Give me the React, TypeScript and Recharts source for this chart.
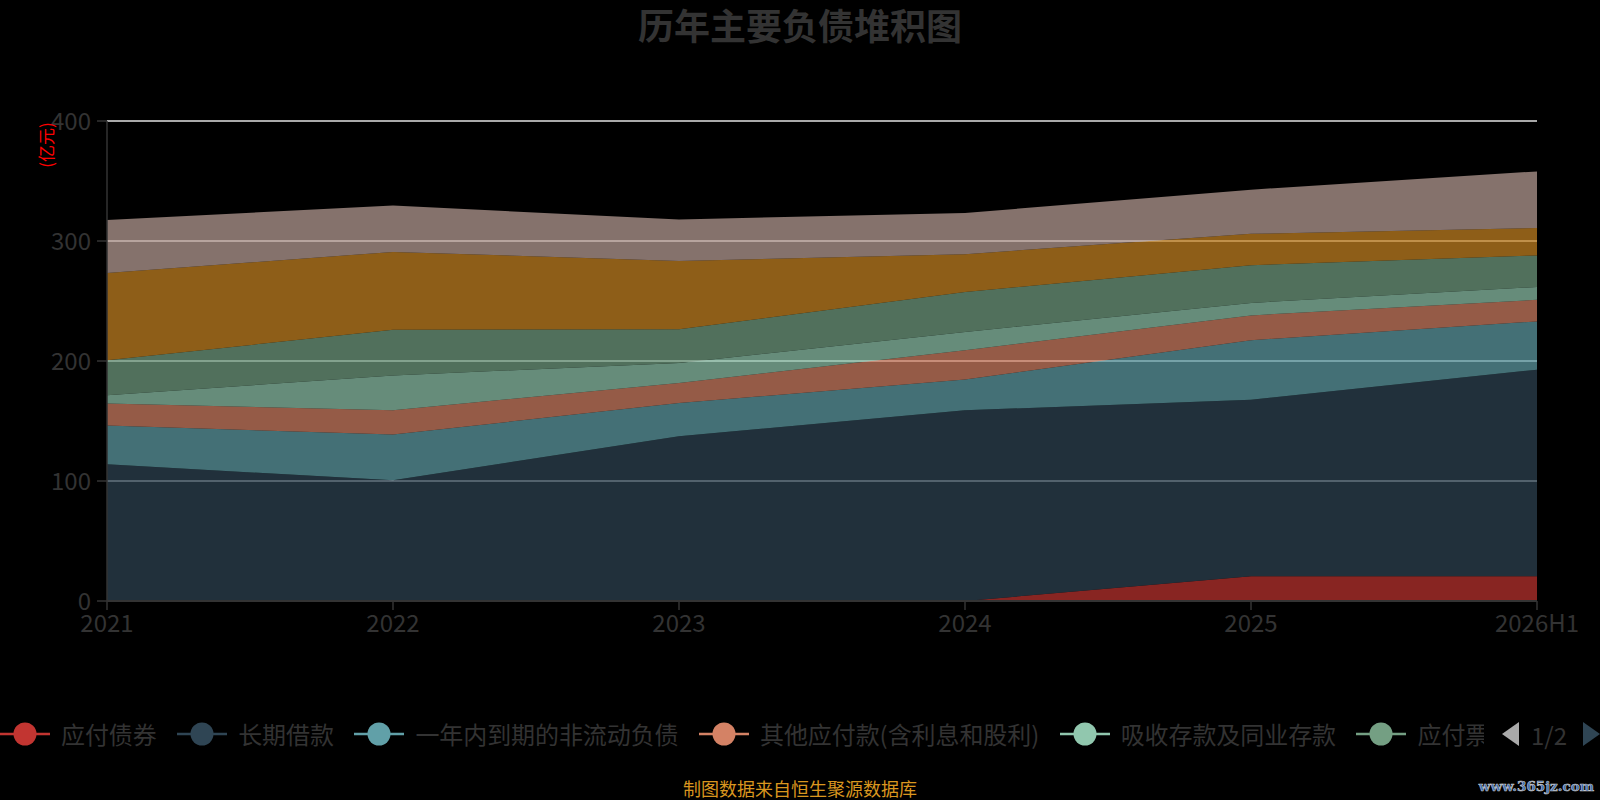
import React from 'react';
import { AreaChart, Area, XAxis, YAxis, CartesianGrid } from 'recharts';

const categories = ['2021', '2022', '2023', '2024', '2025', '2026H1'];
const seriesNames = [
  '应付债券',
  '长期借款',
  '一年内到期的非流动负债',
  '其他应付款(含利息和股利)',
  '吸收存款及同业存款',
  '应付票据及应付账款',
  '短期借款',
  '其他负债',
];
const seriesColors = ['#c23531', '#2f4554', '#61a0a8', '#d48265', '#91c7ae', '#749f83', '#ca8622', '#bda29a'];

const bondsPayable = [0, 0, 0, 0, 20.6, 20.6];
const longTermLoans = [113.9, 100.6, 137.2, 158.9, 147.2, 172.2];
const currentNonCurrent = [32.3, 38.1, 27.8, 25.6, 49.5, 40.2];
const otherPayables = [18.3, 20.3, 16.7, 24.5, 20.7, 18.0];
const deposits = [6.9, 29.0, 16.6, 15.2, 10.4, 10.7];
const notesPayable = [29.2, 38.0, 28.1, 33.3, 31.4, 26.3];
const shortTermLoans = [72.8, 64.9, 57.0, 31.5, 26.2, 22.8];
const otherLiabilities = [44.1, 38.6, 34.6, 34.3, 36.8, 47.2];

const yTicks = [0, 100, 200, 300, 400];

const seriesValues = [
  bondsPayable,
  longTermLoans,
  currentNonCurrent,
  otherPayables,
  deposits,
  notesPayable,
  shortTermLoans,
  otherLiabilities,
];

const data = categories.map((c, i) => {
  const row: Record<string, any> = { name: c };
  seriesValues.forEach((vals, k) => {
    row['s' + k] = vals[i];
  });
  return row;
});

const FONT = "'Noto Sans CJK SC', 'Noto Sans', sans-serif";
const legendCount = 6;

export default function App() {
  return (
    <div
      style={{
        position: 'absolute',
        left: 0,
        top: 0,
        width: 1600,
        height: 800,
        background: '#000',
        overflow: 'hidden',
        fontFamily: FONT,
      }}
    >
      <div
        style={{
          position: 'absolute',
          left: 0,
          top: 2,
          width: 1600,
          textAlign: 'center',
          fontSize: 36,
          fontWeight: 'bold',
          color: '#333',
          lineHeight: '44px',
        }}
      >
        历年主要负债堆积图
      </div>

      <div style={{ position: 'absolute', left: 0, top: 0 }}>
        <AreaChart
          width={1600}
          height={800}
          data={data}
          margin={{ top: 121, right: 63, bottom: 159, left: 27 }}
        >
          <CartesianGrid vertical={false} stroke="#e2e2e2" strokeWidth={1.5} />
          <XAxis
            dataKey="name"
            height={40}
            interval={0}
            tickSize={9}
            tickMargin={5}
            axisLine={{ stroke: '#333', strokeWidth: 2 }}
            tickLine={{ stroke: '#333', strokeWidth: 1.5 }}
            tick={{ fill: '#333', fontSize: 24, fontFamily: FONT }}
          />
          <YAxis
            width={80}
            domain={[0, 400]}
            ticks={yTicks}
            interval={0}
            tickSize={10}
            tickMargin={6}
            axisLine={{ stroke: '#333', strokeWidth: 1.5 }}
            tickLine={{ stroke: '#333', strokeWidth: 1.5 }}
            tick={{ fill: '#333', fontSize: 24, fontFamily: FONT }}
          />
          {seriesNames.map((n, k) => (
            <Area
              key={n}
              name={n}
              dataKey={'s' + k}
              stackId="1"
              type="linear"
              stroke="none"
              fill={seriesColors[k]}
              fillOpacity={0.7}
              isAnimationActive={false}
              dot={false}
              activeDot={false}
            />
          ))}
        </AreaChart>
      </div>

      <svg style={{ position: 'absolute', left: 0, top: 0 }} width={100} height={200}>
        <text
          x={45}
          y={145}
          transform="rotate(-90 45 145)"
          textAnchor="middle"
          dominantBaseline="central"
          fill="#ff0000"
          fontSize={17}
          fontFamily={FONT}
        >
          (亿元)
        </text>
      </svg>

      <div
        style={{
          position: 'absolute',
          left: 0,
          top: 716,
          width: 1484,
          height: 36,
          overflow: 'hidden',
          display: 'flex',
          alignItems: 'center',
          whiteSpace: 'nowrap',
        }}
      >
        {seriesNames.slice(0, legendCount).map((n, k) => (
          <div key={n} style={{ display: 'flex', alignItems: 'center', marginRight: 20.5, flexShrink: 0 }}>
            <svg width={50} height={26} style={{ marginRight: 11 }}>
              <line x1={0} y1={13} x2={50} y2={13} stroke={seriesColors[k]} strokeWidth={2.5} />
              <circle cx={25} cy={13} r={11.5} fill={seriesColors[k]} />
            </svg>
            <span style={{ fontSize: 24, color: '#333', lineHeight: '30px', letterSpacing: -0.08 }}>{n}</span>
          </div>
        ))}
      </div>

      <svg style={{ position: 'absolute', left: 1495, top: 716 }} width={105} height={36}>
        <polygon points="7,18 24,6 24,30" fill="#aaaaaa" />
        <text x={54} y={18} textAnchor="middle" dominantBaseline="central" fill="#333" fontSize={24} fontFamily={FONT}>
          1/2
        </text>
        <polygon points="105,18 88,6 88,30" fill="#2f4554" />
      </svg>

      <div
        style={{
          position: 'absolute',
          left: 0,
          top: 777,
          width: 1600,
          textAlign: 'center',
          fontSize: 18,
          color: '#d9961f',
          lineHeight: '22px',
        }}
      >
        制图数据来自恒生聚源数据库
      </div>

      <svg style={{ position: 'absolute', left: 1400, top: 770 }} width={200} height={30}>
        <text
          x={194}
          y={21}
          textAnchor="end"
          fill="#3d6db4"
          stroke="#c8c8c8"
          strokeWidth={0.6}
          fontSize={13.5}
          fontWeight="bold"
          fontFamily="'DejaVu Serif', serif"
        >
          www.365jz.com
        </text>
      </svg>
    </div>
  );
}
